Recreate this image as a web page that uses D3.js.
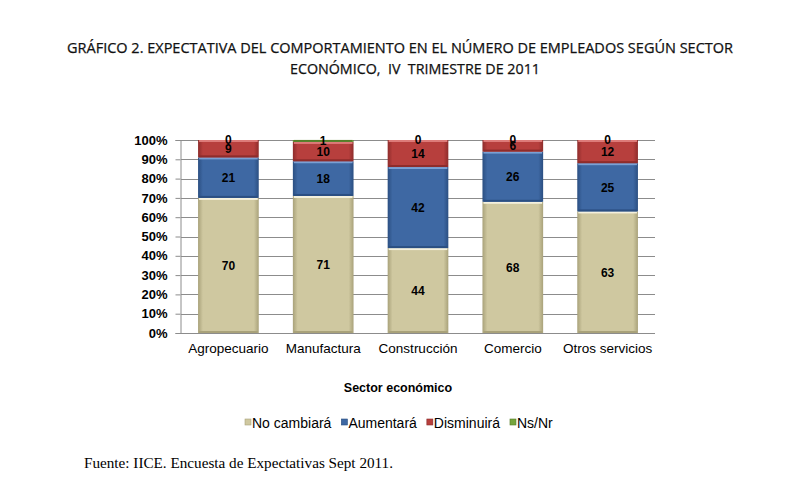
<!DOCTYPE html>
<html><head><meta charset="utf-8">
<script src="https://cdn.jsdelivr.net/npm/d3@7"></script>
<style>body{margin:0;background:#fff}svg{display:block}</style>
</head><body>
<script>
const categories = ["Agropecuario","Manufactura","Construcción","Comercio","Otros servicios"];
const seriesNames = ["No cambiará","Aumentará","Disminuirá","Ns/Nr"];
const noCambiara = [70,71,44,68,63];
const aumentara  = [21,18,42,26,25];
const disminuira = [9,10,14,6,12];
const nsnr       = [0,1,0,0,0];
const yTicks = [0,10,20,30,40,50,60,70,80,90,100];
const colors = ["#cfc8a0","#3e68a3","#b73f3d","#76a53c"];
const dark   = ["#a9a27a","#2b4f82","#8e2c2b","#557d28"];
const light  = ["#f4f1de","#7aa0d4","#dd7b79","#a9d272"];

const W=795,H=490;
const svg=d3.select("body").append("svg").attr("width",W).attr("height",H);
const defs=svg.append("defs");
colors.forEach((c,i)=>{
  const g=defs.append("linearGradient").attr("id","g"+i).attr("x1","0").attr("x2","1").attr("y1","0").attr("y2","0");
  g.append("stop").attr("offset","0").attr("stop-color",dark[i]);
  g.append("stop").attr("offset","0.08").attr("stop-color",c);
  g.append("stop").attr("offset","0.92").attr("stop-color",c);
  g.append("stop").attr("offset","1").attr("stop-color",dark[i]);
});

const x=d3.scaleBand().domain(categories).range([181,655]).paddingInner(0.36).paddingOuter(0.18);
const y=d3.scaleLinear().domain([0,100]).range([333,140]);
const sans="Liberation Sans, Arial, sans-serif";

// gridlines
svg.append("g").selectAll("line").data(yTicks.filter(d=>d>0)).join("line")
  .attr("x1",181).attr("x2",655).attr("y1",d=>Math.round(y(d))+0.5).attr("y2",d=>Math.round(y(d))+0.5)
  .attr("stroke","#8c8c8c").attr("stroke-width",1);

// y axis
const ya=svg.append("g").attr("transform","translate(180.5,0)")
  .call(d3.axisLeft(y).tickValues(yTicks).tickFormat(d=>d+"%").tickSize(5).tickPadding(8));
ya.select(".domain").attr("stroke","#8c8c8c");
ya.selectAll(".tick line").attr("stroke","#8c8c8c");
ya.selectAll("text").attr("font-family",sans).attr("font-size",13).attr("font-weight","bold").attr("fill","#000");

// x axis baseline
const xa=svg.append("g").attr("transform","translate(0,333)")
  .call(d3.axisBottom(x).tickSize(0).tickPadding(10));
xa.select(".domain").attr("stroke","#8c8c8c").attr("d","M176,0.5H655");
xa.selectAll("text").attr("font-family",sans).attr("font-size",13.5).attr("fill","#000");

// stacked data
const table=categories.map((c,i)=>({cat:c,"No cambiará":noCambiara[i],"Aumentará":aumentara[i],"Disminuirá":disminuira[i],"Ns/Nr":nsnr[i]}));
const stacked=d3.stack().keys(seriesNames)(table);

const gBars=svg.append("g");
stacked.forEach((s,si)=>{
  const g=gBars.append("g");
  g.selectAll("rect.b").data(s).join("rect").attr("class","b")
    .attr("x",d=>x(d.data.cat)).attr("width",x.bandwidth())
    .attr("y",d=>y(d[1])).attr("height",d=>Math.max(0,y(d[0])-y(d[1])))
    .attr("fill","url(#g"+si+")");
  g.selectAll("rect.t").data(s.filter(d=>d[1]-d[0]>0)).join("rect").attr("class","t")
    .attr("x",d=>x(d.data.cat)+1).attr("width",x.bandwidth()-2)
    .attr("y",d=>y(d[1])).attr("height",2)
    .attr("fill",light[si]);
  g.selectAll("rect.bt").data(s.filter(d=>d[1]-d[0]>0)).join("rect").attr("class","bt")
    .attr("x",d=>x(d.data.cat)+1).attr("width",x.bandwidth()-2)
    .attr("y",d=>y(d[0])-2).attr("height",2)
    .attr("fill",dark[si]);
});
// labels
stacked.forEach((s,si)=>{
  svg.append("g").selectAll("text").data(s).join("text")
    .attr("x",d=>x(d.data.cat)+x.bandwidth()/2)
    .attr("y",d=>y((d[0]+d[1])/2))
    .attr("dy","0.36em")
    .attr("text-anchor","middle")
    .attr("font-family",sans).attr("font-size",12).attr("font-weight","bold")
    .attr("fill","#000")
    .text(d=>d[1]-d[0]);
});

// axis title
svg.append("text").attr("x",398).attr("y",392).attr("text-anchor","middle")
  .attr("font-family",sans).attr("font-size",12.5).attr("font-weight","bold").text("Sector económico");

// legend
let lx=245;
const lg=svg.append("g");
seriesNames.forEach((n,i)=>{
  const t=lg.append("text").attr("x",lx+7).attr("y",428).attr("font-family",sans).attr("font-size",14).text(n);
  lg.append("rect").attr("x",lx).attr("y",419).attr("width",6).attr("height",6).attr("fill","url(#g"+i+")").attr("stroke",dark[i]).attr("stroke-width",0.6);
  lx+=7+t.node().getComputedTextLength()+10;
});

// title
const tf="'Open Sans', 'Noto Sans', sans-serif";
svg.append("text").attr("x",400).attr("y",53).attr("text-anchor","middle")
  .attr("font-family",tf).attr("font-size",14).attr("textLength",666).attr("lengthAdjust","spacingAndGlyphs")
  .attr("fill","#111").attr("stroke","#111").attr("stroke-width",0.25)
  .text("GRÁFICO 2. EXPECTATIVA DEL COMPORTAMIENTO EN EL NÚMERO DE EMPLEADOS SEGÚN SECTOR");
svg.append("text").attr("x",415).attr("y",74).attr("text-anchor","middle")
  .attr("font-family",tf).attr("font-size",14).attr("textLength",250).attr("lengthAdjust","spacingAndGlyphs")
  .attr("fill","#111").attr("stroke","#111").attr("stroke-width",0.25)
  .attr("xml:space","preserve")
  .text("ECONÓMICO,  IV  TRIMESTRE DE 2011");

// footer
svg.append("text").attr("x",84).attr("y",468)
  .attr("font-family","'Liberation Serif', 'DejaVu Serif', serif").attr("font-size",14.5).attr("textLength",309).attr("lengthAdjust","spacingAndGlyphs")
  .text("Fuente: IICE. Encuesta de Expectativas Sept 2011.");
</script>
</body></html>
